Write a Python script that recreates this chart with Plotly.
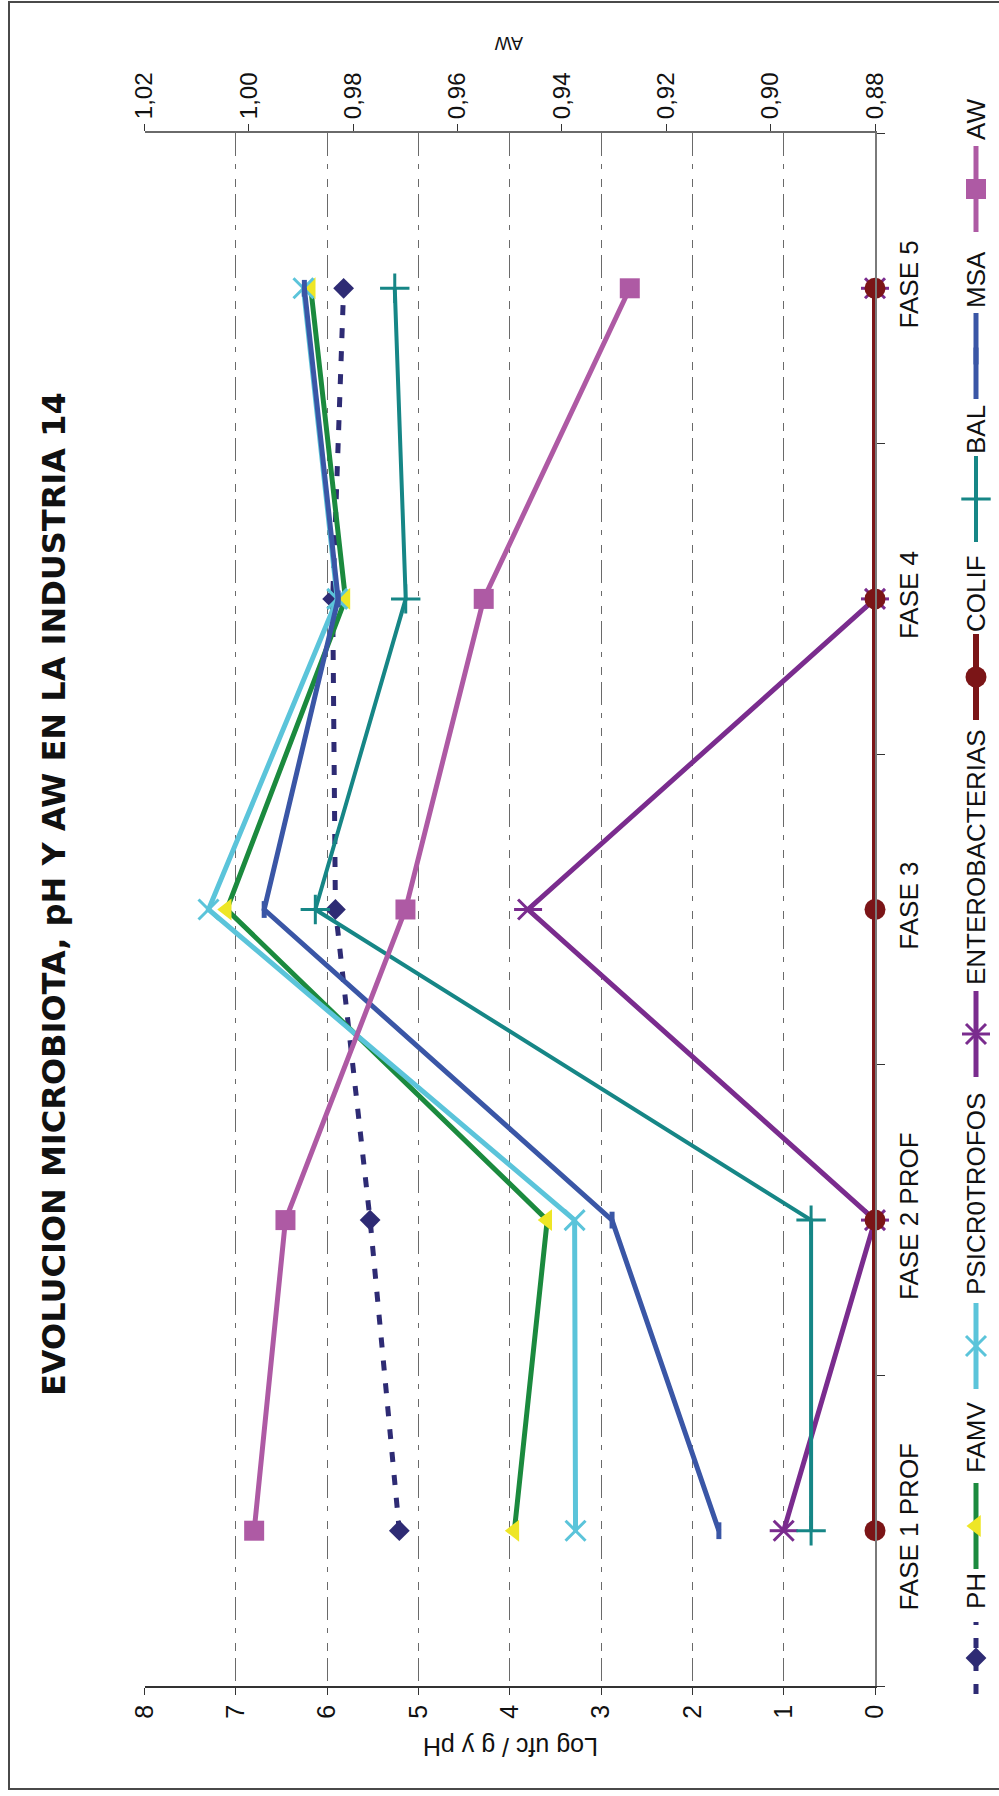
import plotly.graph_objects as go

# ---- data -------------------------------------------------------------
fases = ["FASE 1 PROF", "FASE 2 PROF", "FASE 3", "FASE 4", "FASE 5"]

ph = [5.21, 5.53, 5.91, 5.94, 5.82]
famv = [3.95, 3.59, 7.10, 5.80, 6.18]
psicrotrofos = [3.28, 3.29, 7.30, 5.89, 6.26]
enterobacterias = [1.00, 0.00, 3.80, 0.00, 0.00]
colif = [0.00, 0.00, 0.00, 0.00, 0.00]
bal = [0.70, 0.70, 6.13, 5.14, 5.26]
msa = [1.71, 2.88, 6.69, 5.88, 6.25]
aw = [0.999, 0.993, 0.970, 0.955, 0.927]

log_ticks = [0, 1, 2, 3, 4, 5, 6, 7, 8]
aw_ticks = [0.88, 0.90, 0.92, 0.94, 0.96, 0.98, 1.00, 1.02]
aw_tick_labels = ["0,88", "0,90", "0,92", "0,94", "0,96", "0,98", "1,00", "1,02"]

title_text = "EVOLUCION MICROBIOTA, pH Y AW EN LA INDUSTRIA 14"
log_axis_title = "Log ufc / g y pH"
aw_axis_title = "AW"

# ---- page / plot geometry (pixels) -----------------------------------
W, H = 999, 1796
PLOT_LEFT, PLOT_RIGHT = 144.6, 875.0
PLOT_TOP, PLOT_BOTTOM = 133.0, 1686.0

def px_x(v):
    return v / W

def px_y(v):
    return 1 - v / H

TEXT = "#111111"
SANS = "Liberation Sans, Arial, sans-serif"

# series styles: name, values, axis, color, line dash, width, marker symbol, size, filled
series = [
    dict(name="PH", vals=ph, xaxis="x", color="#2E2B74", dash="10px,13px", width=5,
         symbol="diamond", size=16, open=False),
    dict(name="FAMV", vals=famv, xaxis="x", color="#1B8A3E", dash="solid", width=5,
         symbol="triangle-left", size=19, open=False, mcolor="#EEE626"),
    dict(name="PSICR0TROFOS", vals=psicrotrofos, xaxis="x", color="#5BC4DA", dash="solid", width=5,
         symbol="x-thin-open", size=20, open=True),
    dict(name="ENTEROBACTERIAS", vals=enterobacterias, xaxis="x", color="#7A2C8E", dash="solid", width=5,
         symbol="x-thin-open", size=20, open=True, extra="line-ew-open"),
    dict(name="COLIF", vals=colif, xaxis="x", color="#7B1517", dash="solid", width=6,
         symbol="circle", size=21, open=False),
    dict(name="BAL", vals=bal, xaxis="x", color="#168686", dash="solid", width=4,
         symbol="cross-thin-open", size=21, open=True),
    dict(name="MSA", vals=msa, xaxis="x", color="#3A56A6", dash="solid", width=5,
         symbol="line-ns-open", size=12, open=True),
    dict(name="AW", vals=aw, xaxis="x2", color="#AE5AA4", dash="solid", width=5,
         symbol="square", size=20, open=False),
]

def marker_of(s, size=None):
    size = size or s["size"]
    if s["open"]:
        lw = 5 if s["symbol"].startswith("line") else 3
        return dict(symbol=s["symbol"], size=size, color=s["color"],
                    line=dict(color=s["color"], width=lw))
    return dict(symbol=s["symbol"], size=size, color=s.get("mcolor", s["color"]),
                line=dict(width=0))

fig = go.Figure()

for s in series:
    fig.add_trace(go.Scatter(
        x=s["vals"], y=fases, xaxis=s["xaxis"], yaxis="y",
        mode="lines+markers", name=s["name"], cliponaxis=False,
        line=dict(color=s["color"], width=s["width"], dash=s["dash"]),
        marker=marker_of(s),
    ))
    if s.get("extra"):
        fig.add_trace(go.Scatter(
            x=s["vals"], y=fases, xaxis=s["xaxis"], yaxis="y",
            mode="markers", cliponaxis=False, showlegend=False,
            marker=dict(symbol=s["extra"], size=s["size"], color=s["color"],
                        line=dict(color=s["color"], width=3)),
        ))

# ---- hand-built vertical legend along the right edge ---------------------
LEG_X = 976
legend_slots = {  # (symbol centre, text centre) in page pixels
    "PH": (1658, 1591),
    "FAMV": (1526, 1438),
    "PSICR0TROFOS": (1346, 1194),
    "ENTEROBACTERIAS": (1034, 857),
    "COLIF": (677, 594),
    "BAL": (499, 430),
    "MSA": (356, 280),
    "AW": (189, 120),
}
annotations = []
for s in series:
    sc, tc = legend_slots[s["name"]]
    half = 36 if s["name"] == "PH" else 43
    fig.add_trace(go.Scatter(
        x=[LEG_X, LEG_X], y=[sc + half, sc - half], xaxis="x4", yaxis="y4",
        mode="lines", showlegend=False, hoverinfo="skip", cliponaxis=False,
        line=dict(color=s["color"], width=s["width"], dash=s["dash"]),
    ))
    fig.add_trace(go.Scatter(
        x=[LEG_X], y=[sc], xaxis="x4", yaxis="y4", mode="markers",
        showlegend=False, hoverinfo="skip", cliponaxis=False, marker=marker_of(s),
    ))
    if s.get("extra"):
        fig.add_trace(go.Scatter(
            x=[LEG_X], y=[sc], xaxis="x4", yaxis="y4", mode="markers",
            showlegend=False, hoverinfo="skip", cliponaxis=False,
            marker=dict(symbol=s["extra"], size=s["size"], color=s["color"],
                        line=dict(color=s["color"], width=3)),
        ))
    annotations.append(dict(
        x=LEG_X, y=tc, xref="x4", yref="y4", text=s["name"], showarrow=False,
        textangle=-90, xanchor="center", yanchor="middle",
        font=dict(family=SANS, size=26, color=TEXT),
    ))

# ---- titles -------------------------------------------------------------
annotations += [
    dict(x=px_x(54), y=px_y(894), xref="paper", yref="paper",
         text="<b>" + title_text + "</b>", showarrow=False, textangle=-90,
         xanchor="center", yanchor="middle",
         font=dict(family="DejaVu Sans", size=32, color=TEXT)),
    dict(x=px_x(511), y=px_y(1747), xref="paper", yref="paper",
         text=log_axis_title, showarrow=False, textangle=180,
         xanchor="center", yanchor="middle",
         font=dict(family=SANS, size=25, color=TEXT)),
    dict(x=px_x(509), y=px_y(43), xref="paper", yref="paper",
         text=aw_axis_title, showarrow=False, textangle=180,
         xanchor="center", yanchor="middle",
         font=dict(family=SANS, size=18, color=TEXT)),
]

GRID_DASH = "23px,8px,5px,10px,8px,7px"
x_dom = [px_x(PLOT_LEFT), px_x(PLOT_RIGHT)]
y_dom = [px_y(PLOT_BOTTOM), px_y(PLOT_TOP)]

fig.update_layout(
    width=W, height=H, margin=dict(l=0, r=0, t=0, b=0, pad=0, autoexpand=False),
    paper_bgcolor="white", plot_bgcolor="rgba(0,0,0,0)",
    showlegend=False, annotations=annotations,
    font=dict(family=SANS, color=TEXT),
    xaxis=dict(domain=x_dom, range=[8, 0], anchor="y", side="bottom", automargin=False,
               tickmode="array", tickvals=log_ticks, tickangle=-90,
               ticks="outside", ticklen=7, tickwidth=1, tickcolor="#333333",
               showline=True, linecolor="#333333", linewidth=1.5,
               showgrid=True, gridcolor="#6a6a6a", gridwidth=1, griddash=GRID_DASH,
               zeroline=False, tickfont=dict(size=25, color=TEXT)),
    xaxis2=dict(overlaying="x", anchor="y", side="top", range=[1.02, 0.88], automargin=False,
                tickmode="array", tickvals=aw_ticks, ticktext=aw_tick_labels,
                tickangle=-90, ticks="outside", ticklen=7, tickwidth=1,
                tickcolor="#333333", showline=True, linecolor="#6a6a6a", linewidth=2,
                showgrid=False, zeroline=False, tickfont=dict(size=24, color=TEXT)),
    xaxis3=dict(overlaying="x", anchor="y", side="top", range=[1.02, 0.88], automargin=False,
                tickmode="array", tickvals=aw_ticks, ticks="inside", ticklen=8,
                tickwidth=1, tickcolor="#333333", showticklabels=False,
                showline=False, showgrid=False, zeroline=False),
    yaxis=dict(domain=y_dom, anchor="x", side="right", type="category", automargin=False,
               categoryorder="array", categoryarray=fases, range=[-0.5, 4.5],
               ticks="outside", tickson="boundaries", ticklen=8, tickwidth=1,
               tickcolor="#333333", showline=True, linecolor="#7a7a7a", linewidth=1.5,
               showgrid=False, zeroline=False, tickangle=-90, ticklabelstandoff=10,
               tickfont=dict(size=26, color=TEXT)),
    xaxis4=dict(domain=[0, 1], range=[0, W], anchor="y4", visible=False, fixedrange=True,
                automargin=False),
    yaxis4=dict(domain=[0, 1], range=[H, 0], anchor="x4", visible=False, fixedrange=True,
                automargin=False),
    shapes=[dict(type="rect", xref="paper", yref="paper",
                 x0=px_x(9), x1=px_x(W + 10), y0=px_y(1789), y1=px_y(2),
                 line=dict(color="#4a4a4a", width=2), fillcolor="rgba(0,0,0,0)",
                 layer="below")],
)

fig.write_html("out.html")
